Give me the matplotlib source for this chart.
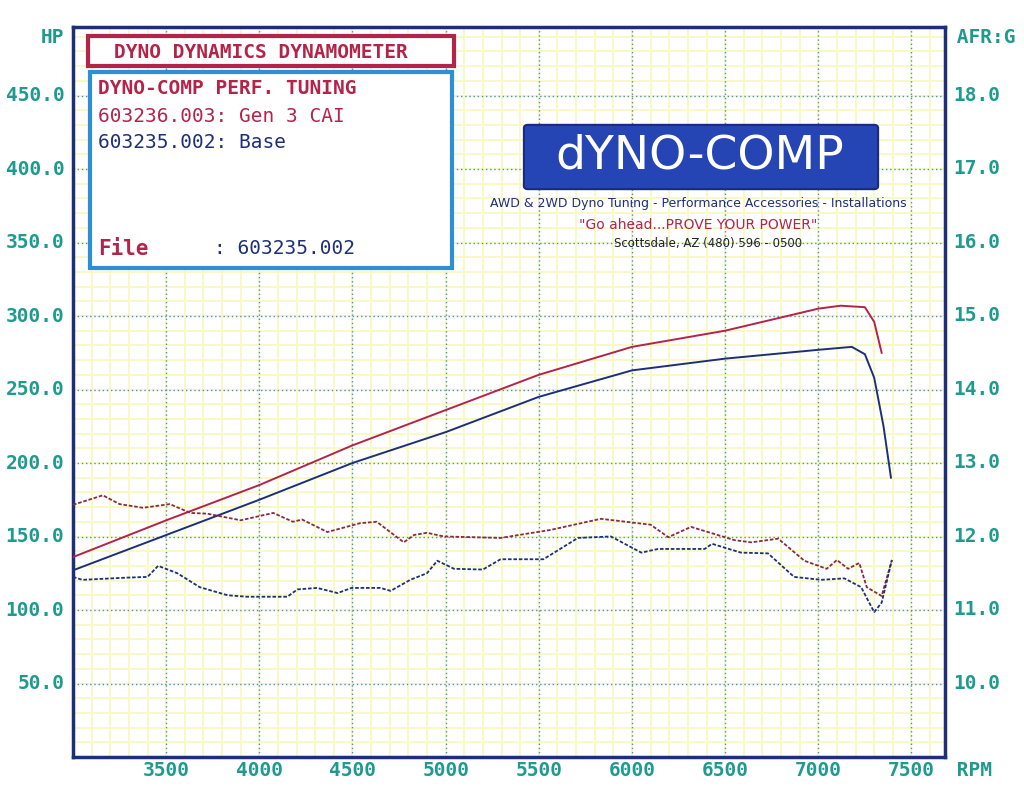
import matplotlib.pyplot as plt
from matplotlib.patches import Rectangle, FancyBboxPatch
import numpy as np

# ---- data ----
hp_rpm = [3000, 3500, 4000, 4500, 5000, 5500, 6000, 6500, 7000, 7120, 7250, 7300, 7340]
hp_cai = [136, 161, 185, 212, 236, 260, 279, 290, 305, 307, 306, 296, 275]
hp_base_rpm = [3000, 3500, 4000, 4500, 5000, 5500, 6000, 6500, 7000, 7180, 7250, 7300, 7350, 7390]
hp_base = [127, 151, 175, 200, 221, 245, 263, 271, 277, 279, 274, 258, 225, 190]

afr_cai_rpm = [3000, 3160, 3250, 3376, 3520, 3630, 3720, 3900, 4075, 4180, 4230, 4365, 4540, 4630,
               4775, 4830, 4900, 4990, 5295, 5565, 5833, 6100, 6195, 6317, 6550, 6640, 6785,
               6925, 7045, 7100, 7160, 7220, 7260, 7340, 7395]
afr_cai = [12.43, 12.56, 12.44, 12.39, 12.44, 12.32, 12.31, 12.22, 12.32, 12.2, 12.23, 12.06, 12.18, 12.2,
           11.92, 12.02, 12.05, 12.0, 11.98, 12.09, 12.24, 12.16, 11.99, 12.13, 11.95, 11.92, 11.97,
           11.67, 11.56, 11.68, 11.56, 11.64, 11.31, 11.19, 11.68]
afr_base_rpm = [3000, 3050, 3290, 3400, 3457, 3560, 3680, 3830, 3935, 4150, 4205, 4310, 4420, 4495,
                4650, 4705, 4810, 4900, 4955, 5045, 5200, 5295, 5525, 5710, 5887, 6050, 6140, 6390,
                6430, 6585, 6730, 6870, 7015, 7140, 7230, 7300, 7340, 7395]
afr_base = [11.45, 11.41, 11.44, 11.45, 11.6, 11.5, 11.31, 11.2, 11.18, 11.18, 11.28, 11.3, 11.23, 11.3,
            11.3, 11.26, 11.41, 11.5, 11.67, 11.56, 11.55, 11.69, 11.69, 11.98, 12.0, 11.78, 11.83, 11.83,
            11.9, 11.78, 11.77, 11.45, 11.41, 11.43, 11.31, 10.97, 11.1, 11.68]

hp_ticks = [50, 100, 150, 200, 250, 300, 350, 400, 450]
afr_ticks = [10, 11, 12, 13, 14, 15, 16, 17, 18]
rpm_ticks = [3500, 4000, 4500, 5000, 5500, 6000, 6500, 7000, 7500]

RED = "#b3234a"
NAVY = "#1e2f7a"
TEAL = "#1f9a8e"
BOXBLUE = "#2f8fd6"
MONO = "DejaVu Sans Mono"
HP_TOP = 496.6
AFR_LO, AFR_HI = 9.0, 18.93

fig = plt.figure(figsize=(10.24, 7.88), dpi=100)
ax = fig.add_axes([73 / 1024, 31 / 788, 872 / 1024, 730 / 788])
ax.set_xlim(3000, 7680)
ax.set_ylim(0, HP_TOP)

# minor yellow grid
for x in np.arange(3100, 7680, 100):
    ax.axvline(x, color="#f9f9c2", lw=1.3, zorder=0)
for y in np.arange(10, HP_TOP, 10):
    ax.axhline(y, color="#f9f9c2", lw=1.3, zorder=0)
# major dotted grid
for x in rpm_ticks:
    ax.axvline(x, color="#4a8fc0", lw=1.0, ls=(0, (1, 2)), zorder=1)
for y in hp_ticks:
    ax.axhline(y, color="#4a8fc0", lw=1.0, ls=(0, (1, 2)), zorder=1)

for s in ax.spines.values():
    s.set_color(NAVY)
    s.set_linewidth(2.5)
ax.set_xticks([])
ax.set_yticks([])

ax2 = ax.twinx()
ax2.set_ylim(AFR_LO, AFR_HI)
ax2.set_yticks([])
for s in ax2.spines.values():
    s.set_visible(False)

ax.plot(hp_rpm, hp_cai, color=RED, lw=1.4, zorder=3)
ax.plot(hp_base_rpm, hp_base, color=NAVY, lw=1.4, zorder=3)
ax2.plot(afr_cai_rpm, afr_cai, color="#8a2a40", lw=1.3, ls=(0, (2, 1)), zorder=3)
ax2.plot(afr_base_rpm, afr_base, color=NAVY, lw=1.3, ls=(0, (2, 1)), zorder=3)

# tick labels
tk = dict(family=MONO, weight="bold", color=TEAL, fontsize=14)
for v in hp_ticks:
    ax.text(-0.01, v / HP_TOP, f"{v:.1f}", transform=ax.transAxes, ha="right", va="center", **tk)
for v in afr_ticks:
    ax.text(1.01, (v - AFR_LO) / (AFR_HI - AFR_LO), f"{v:.1f}", transform=ax.transAxes,
            ha="left", va="center", **tk)
for v in rpm_ticks:
    ax.text(v, -9, str(v), ha="center", va="center", clip_on=False, **tk)
ax.text(1.0, -0.018, " RPM", transform=ax.transAxes, ha="left", va="center", **tk)
ax.text(-0.01, 0.985, "HP", transform=ax.transAxes, ha="right", va="center", **tk)
ax.text(1.0, 0.985, " AFR:G", transform=ax.transAxes, ha="left", va="center", **tk)

# header boxes
fig.patches.append(Rectangle((88 / 1024, 1 - 66 / 788), 366 / 1024, 30 / 788,
                             transform=fig.transFigure, fc="white", ec=RED, lw=3))
fig.text(261 / 1024, 1 - 52 / 788, "DYNO DYNAMICS DYNAMOMETER", family=MONO, weight="bold",
         color=RED, fontsize=14, ha="center", va="center")
fig.patches.append(Rectangle((90 / 1024, 1 - 268 / 788), 362 / 1024, 196 / 788,
                             transform=fig.transFigure, fc="white", ec=BOXBLUE, lw=3))
fig.text(98 / 1024, 1 - 89 / 788, "DYNO-COMP PERF. TUNING", family=MONO, weight="bold",
         color=RED, fontsize=14, va="center")
fig.text(98 / 1024, 1 - 116 / 788, "603236.003: Gen 3 CAI", family=MONO, color=RED,
         fontsize=14, va="center")
fig.text(98 / 1024, 1 - 143 / 788, "603235.002: Base", family=MONO, color=NAVY,
         fontsize=14, va="center")
fig.text(98 / 1024, 1 - 249 / 788, "File", family=MONO, weight="bold", color=RED,
         fontsize=15, va="center")
fig.text(214 / 1024, 1 - 249 / 788, ": 603235.002", family=MONO, color=NAVY,
         fontsize=14, va="center")

# logo
fig.patches.append(FancyBboxPatch((528 / 1024, 1 - 186 / 788), 346 / 1024, 58 / 788,
                                  boxstyle="round,pad=0.004", transform=fig.transFigure,
                                  fc="#2545b5", ec="#1a2a80", lw=1.5))
fig.text(700 / 1024, 1 - 156 / 788, "dYNO-COMP", color="white", fontsize=34, family="DejaVu Sans",
         ha="center", va="center")
fig.text(698 / 1024, 1 - 203 / 788, "AWD & 2WD Dyno Tuning - Performance Accessories - Installations",
         color="#1e2f7a", fontsize=9, ha="center", va="center")
fig.text(698 / 1024, 1 - 225 / 788, '"Go ahead...PROVE YOUR POWER"', color=RED, fontsize=10,
         ha="center", va="center")
fig.text(708 / 1024, 1 - 243 / 788, "Scottsdale, AZ (480) 596 - 0500", color="#222222",
         fontsize=8.5, ha="center", va="center")

fig.savefig("out.png", dpi=100, facecolor="white")
